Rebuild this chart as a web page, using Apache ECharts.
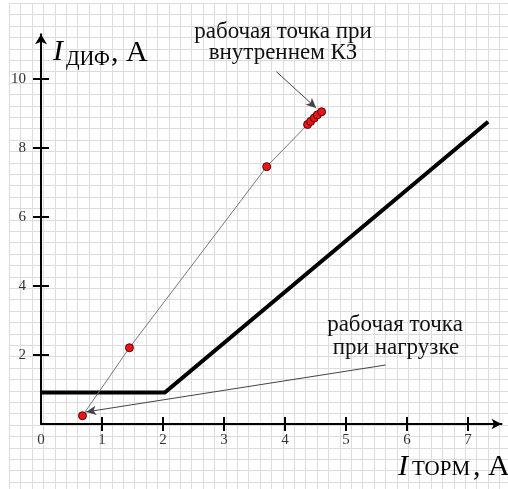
<!DOCTYPE html>
<html>
<head>
<meta charset="utf-8">
<script src="https://cdn.jsdelivr.net/npm/echarts@6/dist/echarts.min.js"></script>
<style>
  html, body { margin: 0; padding: 0; background: #fff; }
  #chart { width: 508px; height: 489px; }
</style>
</head>
<body>
<div id="chart"></div>
<script>
// ---- data ----
const xLabels = [0, 1, 2, 3, 4, 5, 6, 7];
const xTicks = [1, 2, 3, 4, 5, 6, 7];
const yLabels = [2, 4, 6, 8, 10];

// braking characteristic (I_diff vs I_brake)
const charX = [0, 2.03, 7.33];
const charY = [0.91, 0.91, 8.76];

// operating points, load -> internal fault
const ptX = [0.68, 1.45, 3.70, 4.37, 4.42, 4.48, 4.53, 4.60];
const ptY = [0.24, 2.21, 7.46, 8.68, 8.77, 8.87, 8.96, 9.05];

// annotation arrows: [from, to]
const arrowFault = [[3.86, 10.21], [4.51, 9.16]];
const arrowLoad = [[5.65, 1.71], [0.74, 0.35]];

const noteFault = ['рабочая точка при', 'внутреннем КЗ'];
const noteLoad = ['рабочая точка', 'при нагрузке'];

// ---- layout ----
const X0 = 41, Y0 = 424, UX = 61, UY = 34.5;
const XMAX = 7.55, YMAX = 11.3;
const CELL = 11.4; // graph paper step
const SERIF = '"Liberation Serif", "Times New Roman", serif';

const chart = echarts.init(document.getElementById('chart'), null, { renderer: 'canvas' });

const zip = (a, b) => a.map((v, i) => [v, b[i]]);
const tickStyle = { color: '#000', width: 2 };

function mainX(inside) {
  return {
    type: 'value', gridIndex: 1, min: 0, max: XMAX, position: 'bottom', z: 5,
    axisLine: inside ? { show: false } : {
      show: true, onZero: false, symbol: ['none', 'arrow'], symbolSize: [8, 10],
      lineStyle: { color: '#000', width: 2 }
    },
    axisTick: { show: true, inside: inside, length: 7, customValues: xTicks, lineStyle: tickStyle },
    axisLabel: inside ? { show: false } : {
      show: true, customValues: xLabels, margin: 9,
      fontFamily: SERIF, fontSize: 15, color: '#333'
    },
    splitLine: { show: false }
  };
}
function mainY(inside) {
  return {
    type: 'value', gridIndex: 1, min: 0, max: YMAX, position: 'left', z: 5,
    axisLine: inside ? { show: false } : {
      show: true, onZero: false, symbol: ['none', 'arrow'], symbolSize: [9, 10],
      lineStyle: { color: '#000', width: 2 }
    },
    axisTick: { show: true, inside: inside, length: 8, customValues: yLabels, lineStyle: tickStyle },
    axisLabel: inside ? { show: false } : {
      show: true, customValues: yLabels, margin: 15,
      fontFamily: SERIF, fontSize: 15, color: '#333'
    },
    splitLine: { show: false }
  };
}

const paperLine = { show: true, lineStyle: { color: '#dcdcdc', width: 1 } };

const option = {
  animation: false,
  backgroundColor: '#fff',
  grid: [
    { left: 9.3, top: 3.3, right: 0, bottom: 0 },
    { left: X0, top: Y0 - YMAX * UY, width: XMAX * UX, bottom: 489 - Y0 }
  ],
  xAxis: [
    { type: 'value', gridIndex: 0, min: 0, max: (508 - 9.3) / CELL, interval: 1, z: 0,
      axisLine: { show: false }, axisTick: { show: false }, axisLabel: { show: false }, splitLine: paperLine },
    mainX(false),
    mainX(true)
  ],
  yAxis: [
    { type: 'value', gridIndex: 0, min: 0, max: (489 - 3.3) / CELL, interval: 1, inverse: true, z: 0,
      axisLine: { show: false }, axisTick: { show: false }, axisLabel: { show: false }, splitLine: paperLine },
    mainY(false),
    mainY(true)
  ],
  series: [
    {
      type: 'line', xAxisIndex: 1, yAxisIndex: 1, z: 3,
      data: zip(charX, charY), symbol: 'none',
      lineStyle: { color: '#000', width: 4, join: 'miter' }
    },
    {
      type: 'line', xAxisIndex: 1, yAxisIndex: 1, z: 4,
      data: zip(ptX, ptY), symbol: 'circle', symbolSize: 8,
      lineStyle: { color: '#777', width: 1 },
      itemStyle: { color: '#e8161b', borderColor: '#5a0000', borderWidth: 1 },
      markLine: {
        silent: true, symbol: ['none', 'arrow'], symbolSize: [7, 10],
        lineStyle: { color: '#444', width: 1, type: 'solid' },
        label: { show: false },
        data: [
          [{ coord: arrowFault[0] }, { coord: arrowFault[1] }],
          [{ coord: arrowLoad[0] }, { coord: arrowLoad[1] }]
        ]
      }
    }
  ],
  graphic: [
    // y axis name
    { type: 'text', x: 53, y: 52, z: 10, style: { text: 'I', font: 'italic 30px ' + SERIF, fill: '#000', verticalAlign: 'middle' } },
    { type: 'text', x: 66, y: 59.5, z: 10, style: { text: 'ДИФ', font: '20px ' + SERIF, fill: '#000', verticalAlign: 'middle' } },
    { type: 'text', x: 111, y: 53, z: 10, style: { text: ', А', font: '30px ' + SERIF, fill: '#000', verticalAlign: 'middle' } },
    // x axis name
    { type: 'text', x: 398, y: 467.5, z: 10, style: { text: 'I', font: 'italic 30px ' + SERIF, fill: '#000', verticalAlign: 'middle' } },
    { type: 'text', x: 412, y: 469, z: 10, style: { text: 'ТОРМ', font: '21px ' + SERIF, fill: '#000', verticalAlign: 'middle' } },
    { type: 'text', x: 473, y: 467.5, z: 10, style: { text: ', А', font: '30px ' + SERIF, fill: '#000', verticalAlign: 'middle' } },
    // notes
    { type: 'text', x: 283, y: 32, z: 10, style: { text: noteFault[0], font: '23px ' + SERIF, fill: '#111', align: 'center', verticalAlign: 'middle' } },
    { type: 'text', x: 283, y: 53, z: 10, style: { text: noteFault[1], font: '23px ' + SERIF, fill: '#111', align: 'center', verticalAlign: 'middle' } },
    { type: 'text', x: 395, y: 325, z: 10, style: { text: noteLoad[0], font: '23px ' + SERIF, fill: '#111', align: 'center', verticalAlign: 'middle' } },
    { type: 'text', x: 396, y: 348, z: 10, style: { text: noteLoad[1], font: '23px ' + SERIF, fill: '#111', align: 'center', verticalAlign: 'middle' } }
  ]
};

chart.setOption(option);
</script>
</body>
</html>
